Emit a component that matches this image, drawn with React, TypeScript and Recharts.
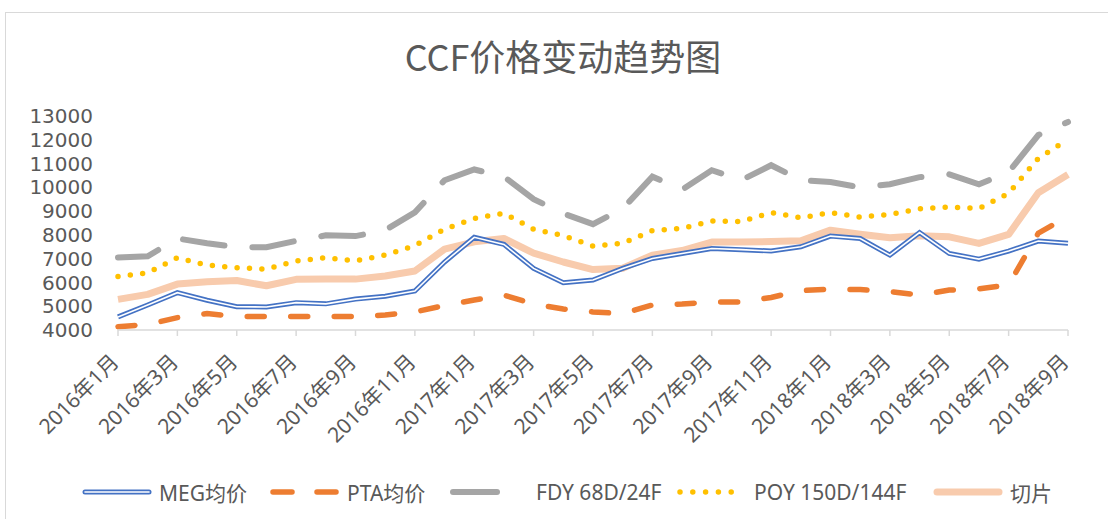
import React from 'react';
import { LineChart, Line, XAxis, YAxis, Legend } from 'recharts';

const months = [
  '2016年1月', '2016年2月', '2016年3月', '2016年4月', '2016年5月', '2016年6月', '2016年7月', '2016年8月',
  '2016年9月', '2016年10月', '2016年11月', '2016年12月', '2017年1月', '2017年2月', '2017年3月', '2017年4月',
  '2017年5月', '2017年6月', '2017年7月', '2017年8月', '2017年9月', '2017年10月', '2017年11月', '2017年12月',
  '2018年1月', '2018年2月', '2018年3月', '2018年4月', '2018年5月', '2018年6月', '2018年7月', '2018年8月', '2018年9月',
];

const megPrice = [4550, 5050, 5570, 5250, 4980, 4970, 5150, 5100, 5300, 5420, 5640, 6860, 7900, 7600, 6590, 5990, 6100, 6590, 7010, 7220, 7430, 7380, 7320, 7500, 7950, 7850, 7150, 8100, 7220, 6980, 7320, 7740, 7650];
const ptaPrice = [4140, 4230, 4520, 4690, 4570, 4570, 4570, 4570, 4570, 4630, 4760, 5030, 5260, 5470, 5090, 4880, 4760, 4690, 5050, 5090, 5180, 5180, 5370, 5660, 5720, 5700, 5620, 5470, 5680, 5730, 5900, 8070, 8790];
const fdyPrice = [7050, 7100, 7850, 7650, 7480, 7480, 7750, 7980, 7950, 8200, 8950, 10300, 10750, 10450, 9500, 8900, 8450, 9100, 10450, 9900, 10720, 10300, 10930, 10300, 10220, 10000, 10130, 10430, 10550, 10130, 10640, 12200, 12750];
const poyPrice = [6250, 6400, 7040, 6730, 6620, 6560, 6900, 7040, 6910, 7150, 7550, 8240, 8690, 8910, 8240, 7970, 7530, 7650, 8180, 8270, 8580, 8560, 8940, 8720, 8940, 8750, 8860, 9100, 9170, 9110, 9750, 11220, 12020];
const slicePrice = [5290, 5500, 5930, 6030, 6080, 5860, 6130, 6140, 6140, 6270, 6480, 7400, 7710, 7850, 7230, 6860, 6540, 6600, 7150, 7340, 7700, 7700, 7720, 7750, 8200, 8030, 7880, 7960, 7920, 7640, 8020, 9770, 10540];

const yTicks = [4000, 5000, 6000, 7000, 8000, 9000, 10000, 11000, 12000, 13000];
const seriesNames = ['MEG均价', 'PTA均价', 'FDY 68D/24F', 'POY 150D/144F', '切片'];
const title = 'CCF价格变动趋势图';

const data = months.map((m, i) => ({
  month: m,
  meg: megPrice[i],
  pta: ptaPrice[i],
  fdy: fdyPrice[i],
  poy: poyPrice[i],
  slice: slicePrice[i],
}));

const FONT = "'Noto Sans', 'Noto Sans CJK SC', sans-serif";
const TEXT = '#595959';
const BLUE = '#4472C4';
const ORANGE = '#ED7D31';
const GRAY = '#A5A5A5';
const YELLOW = '#FFC000';
const PEACH = '#F8CBAD';

const XTick = (props: any) => {
  const { x, y, payload } = props;
  return (
    <g transform={`translate(${x - 3},${y + 20}) rotate(-45)`}>
      <text textAnchor="end" dy="0.35em" fill={TEXT} fontSize={21} fontFamily={FONT}>
        {payload.value}
      </text>
    </g>
  );
};

const iconLefts = [82, 270, 450, 677, 933];

const LegendIcon = ({ idx }: { idx: number }) => {
  const w = 70;
  const cy = 8;
  if (idx === 0) {
    return (
      <svg width={w} height={16}>
        <line x1={3} y1={cy} x2={w - 3} y2={cy} stroke={BLUE} strokeWidth={5} strokeLinecap="round" />
        <line x1={3} y1={cy} x2={w - 3} y2={cy} stroke="#fff" strokeWidth={1.6} strokeLinecap="round" />
      </svg>
    );
  }
  if (idx === 1) {
    return (
      <svg width={w} height={16}>
        <line x1={3} y1={cy} x2={w - 3} y2={cy} stroke={ORANGE} strokeWidth={5.5} strokeLinecap="round" strokeDasharray="19 25" />
      </svg>
    );
  }
  if (idx === 2) {
    return (
      <svg width={w} height={16}>
        <line x1={3} y1={cy} x2={w - 3} y2={cy} stroke={GRAY} strokeWidth={6} strokeLinecap="round" strokeDasharray="44 40" />
      </svg>
    );
  }
  if (idx === 3) {
    return (
      <svg width={w} height={16}>
        <line x1={3} y1={cy} x2={w - 3} y2={cy} stroke={YELLOW} strokeWidth={5.5} strokeLinecap="round" strokeDasharray="0 12.8" />
      </svg>
    );
  }
  return (
    <svg width={w} height={16}>
      <line x1={4} y1={cy} x2={w - 4} y2={cy} stroke={PEACH} strokeWidth={7} strokeLinecap="round" />
    </svg>
  );
};

const renderLegend = () => (
  <div style={{ position: 'relative', width: 1108, height: 30, fontFamily: FONT, fontSize: 21, color: TEXT }}>
    {seriesNames.map((name, i) => (
      <div
        key={name}
        style={{ position: 'absolute', left: iconLefts[i], top: 0, height: 30, display: 'flex', alignItems: 'center', whiteSpace: 'nowrap' }}
      >
        <LegendIcon idx={i} />
        <span style={{ marginLeft: i === 2 ? 16 : 7 }}>{name}</span>
      </div>
    ))}
  </div>
);

export default function App() {
  return (
    <div style={{ position: 'absolute', left: 0, top: 0, width: 1108, height: 519, overflow: 'hidden', background: '#fff' }}>
      <div style={{ position: 'absolute', left: 5, top: 12, width: 1120, height: 530, border: '1.5px solid #D9D9D9', boxSizing: 'border-box' }} />
      <div
        style={{
          position: 'absolute', left: 0, top: 33, width: 1126, textAlign: 'center',
          fontFamily: "'Noto Sans CJK SC', sans-serif", fontSize: 36, color: TEXT, lineHeight: '44px',
        }}
      >
        {title}
      </div>
      <div style={{ position: 'absolute', left: 0, top: 0 }}>
        <LineChart width={1108} height={519} data={data} margin={{ top: 116, right: 40, left: 0, bottom: 49 }}>
          <XAxis
            dataKey="month"
            interval={1}
            tick={<XTick />}
            tickSize={6}
            tickMargin={2}
            height={110}
            axisLine={{ stroke: '#D9D9D9', strokeWidth: 1.5 }}
            tickLine={{ stroke: '#D9D9D9', strokeWidth: 1.5 }}
          />
          <YAxis
            domain={[4000, 13000]}
            ticks={yTicks}
            interval={0}
            width={118}
            axisLine={false}
            tickLine={false}
            tickSize={0}
            tickMargin={25}
            tick={{ fill: TEXT, fontSize: 20, fontFamily: "'DejaVu Sans', sans-serif" }}
          />
          <Legend
            verticalAlign="bottom"
            content={renderLegend}
            wrapperStyle={{ top: 477, bottom: 'auto', left: 0, width: 1108, height: 30 }}
          />
          <Line type="linear" dataKey="slice" name="切片" stroke={PEACH} strokeWidth={7} dot={false} activeDot={false} isAnimationActive={false} strokeLinejoin="round" />
          <Line type="linear" dataKey="meg" name="MEG均价" stroke={BLUE} strokeWidth={5} dot={false} activeDot={false} isAnimationActive={false} />
          <Line type="linear" dataKey={(d: any) => d.meg} name="MEG均价-inner" legendType="none" stroke="#ffffff" strokeWidth={1.6} dot={false} activeDot={false} isAnimationActive={false} />
          <Line type="linear" dataKey="pta" name="PTA均价" stroke={ORANGE} strokeWidth={5.5} strokeDasharray="17 26.5" strokeLinecap="round" dot={false} activeDot={false} isAnimationActive={false} />
          <Line type="linear" dataKey="fdy" name="FDY 68D/24F" stroke={GRAY} strokeWidth={6} strokeDasharray="42 28" strokeLinecap="round" dot={false} activeDot={false} isAnimationActive={false} />
          <Line type="linear" dataKey="poy" name="POY 150D/144F" stroke={YELLOW} strokeWidth={5.5} strokeDasharray="0 12.4" strokeLinecap="round" dot={false} activeDot={false} isAnimationActive={false} />
        </LineChart>
      </div>
    </div>
  );
}
